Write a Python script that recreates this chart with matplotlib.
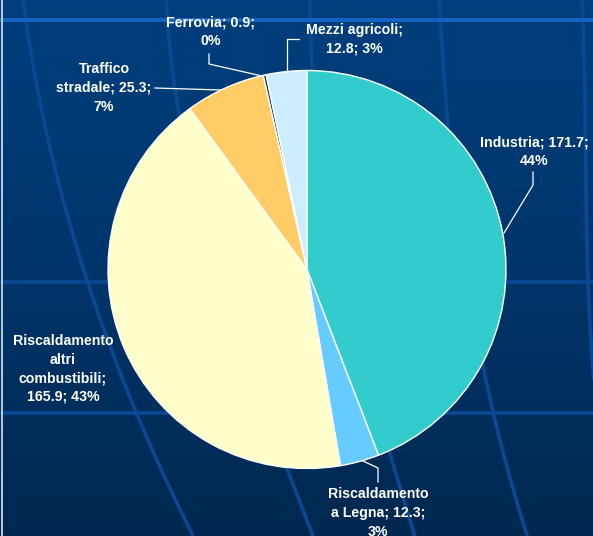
import numpy as np
import matplotlib
matplotlib.use("Agg")
import matplotlib.pyplot as plt
from matplotlib.colors import LinearSegmentedColormap

# ---- data ----
categories = ["Industria", "Riscaldamento\na Legna", "Riscaldamento\naltri\ncombustibili",
              "Traffico\nstradale", "Ferrovia", "Mezzi agricoli"]
values = [171.7, 12.3, 165.9, 25.3, 0.9, 12.8]
label_texts = ["Industria; 171.7;\n44%",
               "Riscaldamento\na Legna; 12.3;\n3%",
               "Riscaldamento\naltri\ncombustibili;\n165.9; 43%",
               "Traffico\nstradale; 25.3;\n7%",
               "Ferrovia; 0.9;\n0%",
               "Mezzi agricoli;\n12.8; 3%"]
colors = ["#33CCCC", "#66CCFF", "#FFFFCC", "#FFCC66", "#003366", "#CCECFF"]

W, H = 593, 536
fig = plt.figure(figsize=(W / 100, H / 100), dpi=100)
ax = fig.add_axes([0, 0, 1, 1])
ax.set_xlim(0, W)
ax.set_ylim(0, H)
ax.axis("off")

def Y(py):
    return H - py

# background gradient
cmap = LinearSegmentedColormap.from_list("bg", ["#003f7d", "#00356b", "#00284f"])
grad = np.linspace(0, 1, 256).reshape(-1, 1)
ax.imshow(grad, cmap=cmap, extent=[0, W, 0, H], aspect="auto", zorder=0, origin="upper")

# background decorative lines (template)
curves = [
    [(23, 0), (40, 100), (93, 300), (137, 413), (193, 536)],
    [(167, 0), (177, 115), (230, 300), (283, 468), (315, 536)],
    [(310, 0), (313, 80), (345, 280), (390, 455), (415, 536)],
    [(439, 0), (447, 100), (460, 240), (483, 365), (498, 430), (527, 536)],
    [(582, 0), (585, 100), (588, 282), (596, 400)],
]
for pts in curves:
    pts = np.array(pts, dtype=float)
    deg = min(3, len(pts) - 1)
    c = np.polyfit(pts[:, 1], pts[:, 0], deg)
    yy = np.linspace(pts[0, 1], pts[-1, 1], 200)
    ax.plot(np.polyval(c, yy), Y(yy), color="#0a4894", lw=2.6, zorder=1, solid_capstyle="butt")
ax.plot([0, W], [Y(20), Y(20)], color="#1563c2", lw=2.8, zorder=1)
ax.plot([0, W], [Y(282), Y(282)], color="#0a4894", lw=2.6, zorder=1)
ax.plot([0, W], [Y(413), Y(413)], color="#0a4894", lw=2.6, zorder=1)
ax.plot([2, 2], [0, H], color="#c8d6ea", lw=1.3, zorder=1)

# pie
cx, cy, r = 307, 269.5, 199
ax.pie(values, colors=colors, startangle=90, counterclock=False,
       center=(cx, Y(cy)), radius=r, frame=True,
       wedgeprops=dict(edgecolor="white", linewidth=1.0))
ax.set_xlim(0, W)
ax.set_ylim(0, H)
ax.set_aspect("auto")
ax.axis("off")

# labels
label_pos = [(534, 152), (378, 513), (63, 369), (104, 88), (211, 32), (354, 39)]
txt_kw = dict(color="white", fontsize=10.2, fontweight="bold", family="Liberation Sans",
              ha="center", va="center", linespacing=1.42, zorder=5)
for t, (px, py) in zip(label_texts, label_pos):
    ax.text(px, Y(py), t, **txt_kw)

# leader lines
leaders = [
    [(533, 172), (533, 185), (504, 233)],
    [(378, 482), (378, 468), (363, 461)],
    [(155, 88), (221, 90)],
    [(209, 54), (209, 64), (262, 76)],
    [(299, 39), (287, 39), (287, 72)],
]
for pts in leaders:
    pts = np.array(pts, dtype=float)
    ax.plot(pts[:, 0], Y(pts[:, 1]), color="white", lw=0.9, zorder=4)

fig.savefig("out.png", dpi=100)
